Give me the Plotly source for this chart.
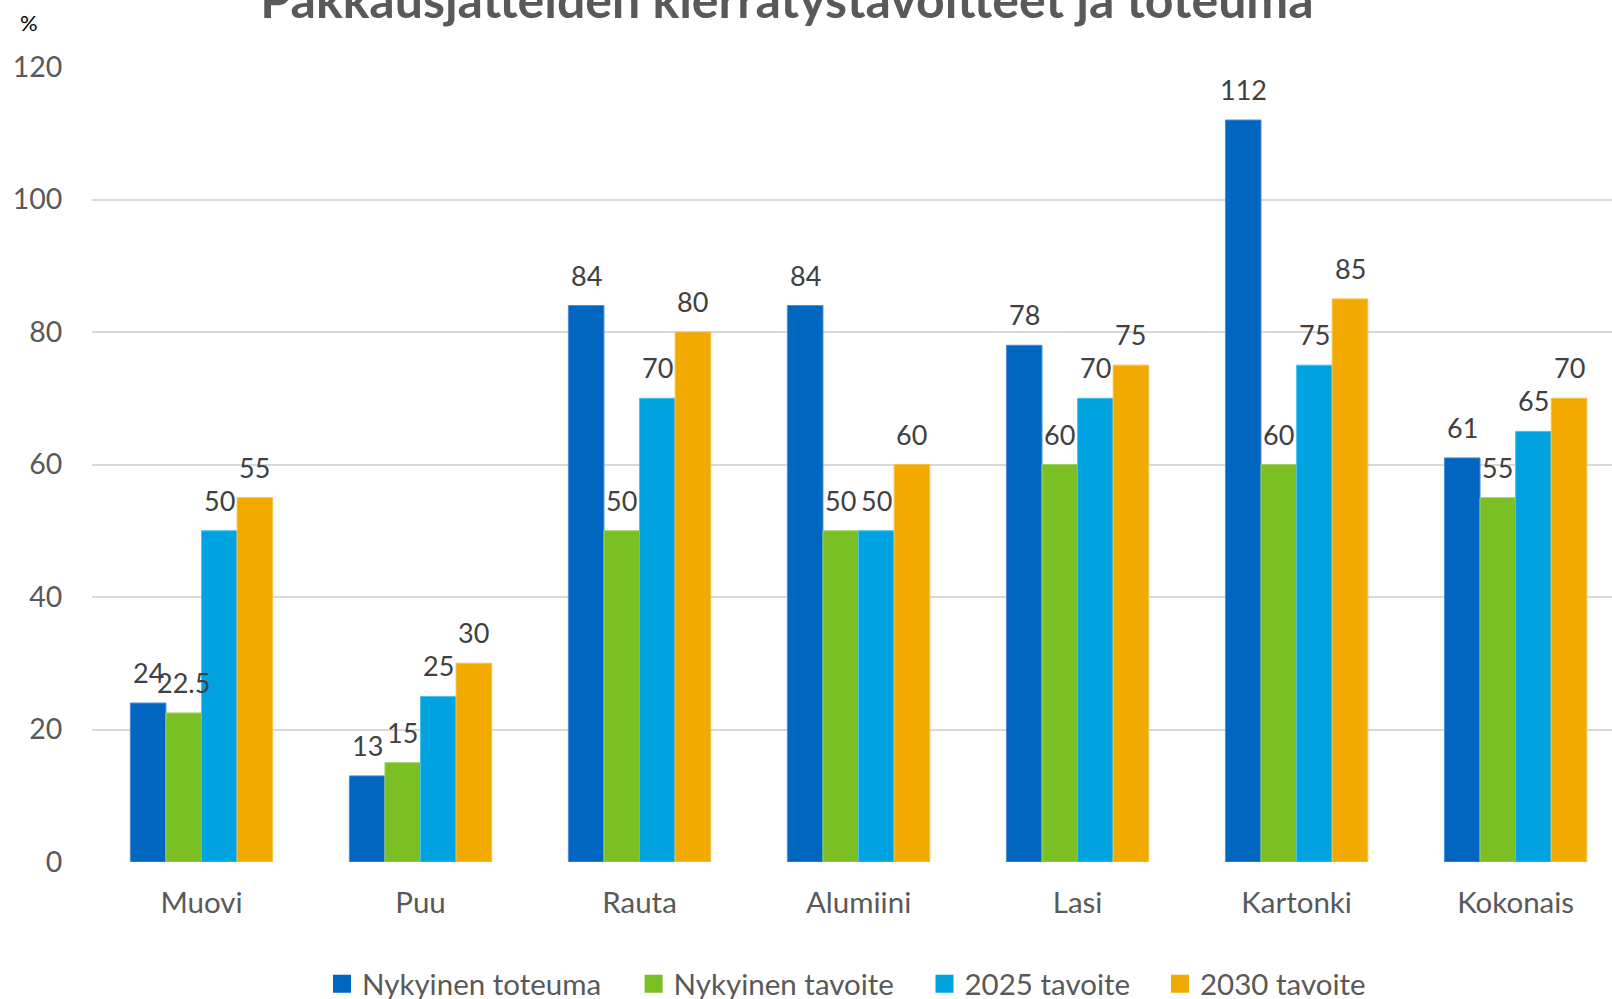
import plotly.graph_objects as go

categories = ["Muovi", "Puu", "Rauta", "Alumiini", "Lasi", "Kartonki", "Kokonais"]
series_names = ["Nykyinen toteuma", "Nykyinen tavoite", "2025 tavoite", "2030 tavoite"]
nykyinen_toteuma = [24, 13, 84, 84, 78, 112, 61]
nykyinen_tavoite = [22.5, 15, 50, 50, 60, 60, 55]
tavoite_2025 = [50, 25, 70, 50, 70, 75, 65]
tavoite_2030 = [55, 30, 80, 60, 75, 85, 70]
colors = ["#0066BF", "#7ABF24", "#00A2E0", "#F2A900"]
edge_colors = ["#4D8FD6", "#A0D165", "#4DC0EC", "#F6C24D"]
y_ticks = [0, 20, 40, 60, 80, 100, 120]

all_series = [nykyinen_toteuma, nykyinen_tavoite, tavoite_2025, tavoite_2030]

FONT = "Lato"
BARGAP = 0.35
W, H = 1612, 999
ML, MR, MT, MB = 92, 0, 67, 137
legend_left = [333, 644.6, 935.5, 1171]  # left edge of each legend swatch (px)

fig = go.Figure()
for name, vals, col, ecol in zip(series_names, all_series, colors, edge_colors):
    fig.add_trace(go.Bar(
        x=categories, y=vals, name=name,
        marker=dict(color=col, line=dict(width=1, color=ecol)),
        showlegend=False, hoverinfo="x+y+name",
    ))

legend_ids = ["legend", "legend2", "legend3", "legend4"]
# legend-only entries with larger square symbols, each in its own legend box
for name, col, lid in zip(series_names, colors, legend_ids):
    fig.add_trace(go.Scatter(
        x=[None], y=[None], mode="markers", name=name, legend=lid,
        marker=dict(symbol="square", size=16, color=col, line=dict(color=col, width=2)),
        showlegend=True,
    ))

# data labels
n = len(all_series)
bw = (1 - BARGAP) / n
annotations = []
for k, vals in enumerate(all_series):
    for i, v in enumerate(vals):
        annotations.append(dict(
            x=i + (k - (n - 1) / 2) * bw, y=v, xref="x", yref="y",
            text=f"{v:g}", showarrow=False, yanchor="bottom", xanchor="center",
            yshift=12, font=dict(family=FONT, size=27, color="#404040"),
        ))
plot_w = W - ML - MR
plot_h = H - MT - MB
annotations.append(dict(
    x=(29 - ML) / plot_w, y=(H - MB - 22) / plot_h, xref="paper", yref="paper", text="%",
    showarrow=False, xanchor="center", yanchor="middle",
    font=dict(family=FONT, size=22, color="#000000"),
))

legend_common = dict(
    orientation="h", xref="container", yref="container",
    xanchor="left", y=1 - 984 / H, yanchor="middle",
    font=dict(family=FONT, size=29.5, color="#595959"),
    itemclick=False, itemdoubleclick=False, bgcolor="rgba(0,0,0,0)", borderwidth=0,
)
legends = {}
for lid, lx in zip(legend_ids, legend_left):
    legends[lid] = dict(legend_common, x=(lx - 11) / W)

fig.update_layout(
    width=W, height=H,
    paper_bgcolor="white", plot_bgcolor="white",
    barmode="group", bargap=BARGAP, bargroupgap=0,
    margin=dict(l=ML, r=MR, t=MT, b=MB, autoexpand=False),
    title=dict(
        text="<b>Pakkausjätteiden kierrätystavoitteet ja toteuma</b>",
        x=787 / W, xanchor="center", xref="container",
        y=1 - 17.5 / H, yanchor="bottom", yref="container",
        font=dict(family=FONT, size=50, color="#595959"),
    ),
    xaxis=dict(
        type="category", range=[-0.5, 6.44], showgrid=False, zeroline=False,
        showline=False, ticks="outside", ticklen=15, tickcolor="rgba(0,0,0,0)",
        tickfont=dict(family=FONT, size=29.5, color="#595959"),
    ),
    yaxis=dict(
        range=[0, 120], tickvals=y_ticks, showgrid=True, gridcolor="#D9D9D9",
        gridwidth=1.5, zeroline=False, showline=False,
        ticks="outside", ticklen=23, tickcolor="rgba(0,0,0,0)",
        tickfont=dict(family=FONT, size=28.5, color="#595959"),
    ),
    annotations=annotations,
    **legends,
)

fig.write_html(
    "out.html",
    config={"displayModeBar": False},
    post_script="document.body.style.margin='0';document.body.style.overflow='hidden';",
)
